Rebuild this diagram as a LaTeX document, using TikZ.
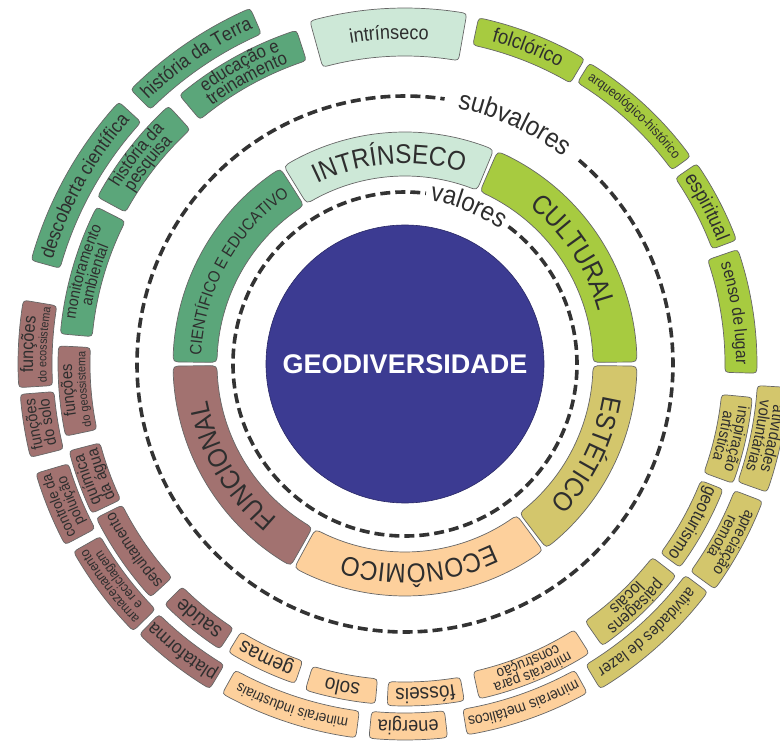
\documentclass[tikz,border=0pt]{standalone}
\usepackage{fontspec}
\setmainfont{Liberation Sans}
\newfontfamily\labelfont[FakeStretch=0.9]{Liberation Sans}
\usetikzlibrary{decorations.text}
\definecolor{geoblue}{HTML}{3C3B92}
\definecolor{intrcolor}{HTML}{CDE8D7}
\definecolor{cultcolor}{HTML}{A7CB40}
\definecolor{estcolor}{HTML}{D3C66C}
\definecolor{econcolor}{HTML}{FDD09C}
\definecolor{funccolor}{HTML}{A27270}
\definecolor{scicolor}{HTML}{5BA67A}
\definecolor{labelgray}{HTML}{2E2E2E}
\definecolor{dashgray}{HTML}{333333}
\tikzset{
  segline/.style={draw=black!60, line width=0.7pt},
  dashring/.style={draw=dashgray, line width=3.6pt, dash pattern=on 10pt off 5pt},
  corecircle/.style={circle, fill=geoblue, draw=geoblue!70!black, line width=0.6pt,
    minimum size=278pt, inner sep=0pt, text=white, font=\bfseries\fontsize{27}{27}\selectfont},
}
\newcommand{\cornerrad}{8}
% #1 start angle, #2 end angle (clockwise), #3 inner radius, #4 outer radius, #5 fill
\newcommand{\ringseg}[5]{%
  \pgfmathsetmacro{\segao}{\cornerrad/#4*57.2958}%
  \pgfmathsetmacro{\segai}{\cornerrad/#3*57.2958}%
  \pgfmathsetmacro{\segro}{#4-\cornerrad}%
  \pgfmathsetmacro{\segri}{#3+\cornerrad}%
  \filldraw[segline, fill=#5]
    ({#1-\segao}:#4pt) arc[start angle={#1-\segao}, end angle={#2+\segao}, radius=#4pt]
    .. controls (#2:#4pt) .. (#2:\segro pt)
    -- (#2:\segri pt)
    .. controls (#2:#3pt) .. ({#2+\segai}:#3pt)
    arc[start angle={#2+\segai}, end angle={#1-\segai}, radius=#3pt]
    .. controls (#1:#3pt) .. (#1:\segri pt)
    -- (#1:\segro pt)
    .. controls (#1:#4pt) .. ({#1-\segao}:#4pt) -- cycle;
}
% #1 start angle, #2 end angle, #3 baseline radius, #4 font size, #5 text
\newcommand{\arclabel}[5]{%
  \path[decorate, decoration={text along path, text align=center, text color=labelgray,
    text={|\labelfont\fontsize{#4}{#4}\selectfont|#5}}]
    (#1:#3pt) arc[start angle=#1, end angle=#2, radius=#3pt];
}
\begin{document}
\begin{tikzpicture}[x=1pt,y=1pt]
\useasboundingbox (-405,-378) rectangle (375,364);
%
\node[corecircle] (geo) at (0,0) {GEODIVERSIDADE};
%
\draw[dashring] (53:172pt) arc[start angle=53, end angle=-277, radius=172pt];
\arclabel{83}{53}{165}{26.5}{valores}
\draw[dashring] (49.5:268pt) arc[start angle=49.5, end angle=-278.5, radius=268pt];
\arclabel{81.5}{49.5}{261}{27}{subvalores}
%
% valores
\renewcommand{\cornerrad}{10}
\ringseg{121.5}{67.5}{188}{232}{intrcolor}
\ringseg{66.5}{0.5}{188}{232}{cultcolor}
\ringseg{-0.5}{-52.5}{188}{232}{estcolor}
\ringseg{-53.5}{-118.5}{188}{232}{econcolor}
\ringseg{-119.5}{-179.5}{188}{232}{funccolor}
\ringseg{179.5}{122.5}{188}{232}{scicolor}
\arclabel{121.5}{67.5}{200.5}{27}{INTRÍNSECO}
\arclabel{66.5}{0.5}{200.5}{27}{CULTURAL}
\arclabel{-0.5}{-52.5}{200.5}{27}{ESTÉTICO}
\arclabel{-53.5}{-118.5}{200.5}{27}{ECONÔMICO}
\arclabel{-119.5}{-179.5}{200.5}{27}{FUNCIONAL}
\arclabel{179.5}{122.5}{204}{16.5}{CIENTÍFICO E EDUCATIVO}
%
% subvalores
\renewcommand{\cornerrad}{8}
\ringseg{105.5}{80}{308}{356}{intrcolor}
\arclabel{105.5}{80}{325}{20}{intrínseco}
%
\ringseg{135}{113.5}{360}{388}{scicolor}
\arclabel{135}{113.5}{368.5}{19.5}{história da Terra}
\ringseg{130}{108}{319}{351}{scicolor}
\arclabel{130}{108}{337.3}{18.5}{educação e}
\arclabel{130}{108}{322.3}{18.5}{treinamento}
\ringseg{164.5}{137.5}{358}{388}{scicolor}
\arclabel{164.5}{137.5}{367.5}{19.5}{descoberta científica}
\ringseg{151.5}{132.5}{318}{350}{scicolor}
\arclabel{151.5}{132.5}{336.2}{18}{história da}
\arclabel{151.5}{132.5}{321.7}{18}{pesquisa}
\ringseg{175}{153}{314}{346}{scicolor}
\arclabel{175}{153}{332.5}{16}{monitoramento}
\arclabel{175}{153}{318.5}{16}{ambiental}
%
\ringseg{78}{59.5}{326}{354}{cultcolor}
\arclabel{78}{59.5}{334.3}{20.5}{folclórico}
\ringseg{58.5}{36}{330}{353}{cultcolor}
\arclabel{58.5}{36}{337.7}{13.5}{arqueológico-histórico}
\ringseg{34.5}{20.5}{328}{354}{cultcolor}
\arclabel{34.5}{20.5}{335.4}{20}{espiritual}
\ringseg{19}{-1.5}{320}{352}{cultcolor}
\arclabel{19}{-1.5}{331.2}{17.3}{senso de lugar}
%
\ringseg{183.5}{170.5}{353}{387}{funccolor}
\arclabel{183.5}{170.5}{372}{18}{funções}
\arclabel{183.5}{170.5}{358.6}{12}{do ecossistema}
\ringseg{192}{177}{315}{347}{funccolor}
\arclabel{192}{177}{332.9}{16.5}{funções}
\arclabel{192}{177}{319.6}{12}{do geossistema}
\ringseg{194}{184.5}{352}{386}{funccolor}
\arclabel{194}{184.5}{371.5}{16}{funções}
\arclabel{194}{184.5}{357.5}{16}{do solo}
\ringseg{205.5}{194.5}{315}{347}{funccolor}
\arclabel{205.5}{194.5}{333.6}{16.5}{química}
\arclabel{205.5}{194.5}{319.1}{16.5}{da água}
\ringseg{208}{196.5}{351}{385}{funccolor}
\arclabel{208}{196.5}{370.5}{15}{controle da}
\arclabel{208}{196.5}{357}{15}{poluição}
\ringseg{222.5}{206.5}{316}{345}{funccolor}
\arclabel{222.5}{206.5}{326}{16}{sepultamento}
\ringseg{224.5}{209.5}{350}{381}{funccolor}
\arclabel{224.5}{209.5}{367.7}{13.5}{armazenamento}
\arclabel{224.5}{209.5}{355.7}{13.5}{e reciclagem}
\ringseg{237}{225}{315}{340}{funccolor}
\arclabel{237}{225}{321.6}{21}{saúde}
\ringseg{239}{225.5}{351}{379}{funccolor}
\arclabel{239}{225.5}{359.7}{19}{plataforma}
%
\ringseg{251}{238.5}{314}{338}{econcolor}
\arclabel{251}{238.5}{320.1}{21}{gemas}
\ringseg{262.5}{241}{350}{377}{econcolor}
\arclabel{262.5}{241}{359.3}{15}{minerais industriais}
\ringseg{265}{253}{316}{341}{econcolor}
\arclabel{265}{253}{322.6}{21}{solo}
\ringseg{276.5}{264.5}{349}{376}{econcolor}
\arclabel{276.5}{264.5}{356.9}{20}{energia}
\ringseg{280}{267}{318}{342}{econcolor}
\arclabel{280}{267}{324.1}{21}{fósseis}
\ringseg{302.5}{282.5}{315}{343}{econcolor}
\arclabel{302.5}{282.5}{331}{15}{minerais para}
\arclabel{302.5}{282.5}{318.5}{15}{construção}
\ringseg{299}{279.5}{350}{376}{econcolor}
\arclabel{299}{279.5}{358.7}{15.5}{minerais metálicos}
%
\ringseg{322}{305}{314}{344}{estcolor}
\arclabel{322}{305}{331.2}{17}{paisagens}
\arclabel{322}{305}{317.2}{17}{locais}
\ringseg{323}{301}{351}{379}{estcolor}
\arclabel{323}{301}{360.4}{16.5}{atividades de lazer}
\ringseg{338.5}{323.5}{318}{342}{estcolor}
\arclabel{338.5}{323.5}{325}{18}{geoturismo}
\ringseg{339}{324}{353}{383}{estcolor}
\arclabel{339}{324}{370.5}{16}{apreciação}
\arclabel{339}{324}{356.5}{16}{remota}
\ringseg{354.5}{340}{318}{349}{estcolor}
\arclabel{354.5}{340}{336}{16}{inspiração}
\arclabel{354.5}{340}{322}{16}{artística}
\ringseg{356.5}{340.5}{353}{384}{estcolor}
\arclabel{356.5}{340.5}{370.9}{16.5}{atividades}
\arclabel{356.5}{340.5}{356.9}{16.5}{voluntárias}
\end{tikzpicture}
\end{document}
